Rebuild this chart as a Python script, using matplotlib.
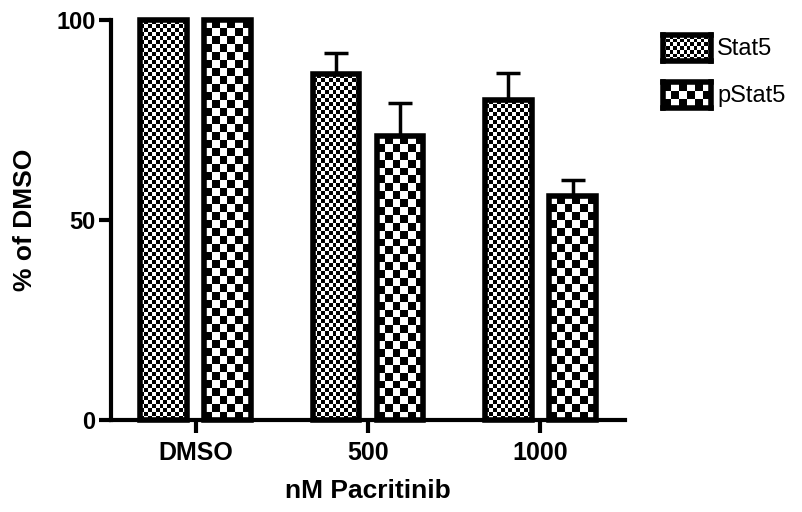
#!/usr/bin/env python3
"""Stat5 / pStat5 levels vs pacritinib dose, checkerboard bars."""

import matplotlib
matplotlib.use('Agg')
import matplotlib.pyplot as plt
import numpy as np

# data
doses = ['DMSO', '500', '1000']
stat5 = [100, 86.5, 80]
stat5_err = [0, 5.2, 6.8]
pstat5 = [100, 71, 56]
pstat5_err = [0, 8.3, 4.0]
series_names = ['Stat5', 'pStat5']

plt.rcParams['font.family'] = ['Liberation Sans', 'DejaVu Sans']

DPI = 100
fig = plt.figure(figsize=(8.02, 5.12), dpi=DPI)
ax = fig.add_axes([111 / 802, 92 / 512, 514 / 802, 400 / 512])


def checker(n_x, n_y):
    """Checkerboard array with n_x by n_y cells."""
    xx, yy = np.meshgrid(np.arange(n_x), np.arange(n_y))
    return ((xx + yy) % 2).astype(float)


def fill_checker(ax, patch, cell_px):
    """Fill a bar patch with a checkerboard of cell_px sized squares."""
    x0, y0 = patch.get_x(), patch.get_y()
    x1, y1 = x0 + patch.get_width(), y0 + patch.get_height()
    p0 = ax.transData.transform((x0, y0))
    p1 = ax.transData.transform((x1, y1))
    nx = max(1, int(round(abs(p1[0] - p0[0]) / cell_px)))
    ny = max(1, int(round(abs(p1[1] - p0[1]) / cell_px)))
    img = ax.imshow(checker(nx, ny), cmap='gray', vmin=0, vmax=1,
                    extent=(x0, x1, y0, y1), origin='lower',
                    interpolation='nearest', aspect='auto', zorder=2)
    img.set_clip_path(patch)


def draw_errors(ax, xs, ys, errs):
    """Upper-only error bars, skipping zero errors."""
    xs, ys, errs = np.asarray(xs), np.asarray(ys), np.asarray(errs)
    m = errs > 0
    ax.errorbar(xs[m], ys[m], yerr=[np.zeros(m.sum()), errs[m]], fmt='none',
                ecolor='black', elinewidth=2.5, capsize=8.5, capthick=2.5,
                zorder=4, clip_on=False)


x = np.arange(len(doses))
width = 0.27
offset = 0.186

ax.set_xlim(-0.49, 2.49)
ax.set_ylim(0, 100)

bars1 = ax.bar(x - offset, stat5, width, edgecolor='black', linewidth=4,
               zorder=3, fill=False, clip_on=False)
bars2 = ax.bar(x + offset, pstat5, width, edgecolor='black', linewidth=4,
               zorder=3, fill=False, clip_on=False)

for b in bars1:
    fill_checker(ax, b, 4)
for b in bars2:
    fill_checker(ax, b, 8)

draw_errors(ax, x - offset, stat5, stat5_err)
draw_errors(ax, x + offset, pstat5, pstat5_err)

# axes styling
for side in ['top', 'right']:
    ax.spines[side].set_visible(False)
for side in ['left', 'bottom']:
    ax.spines[side].set_linewidth(3)
    ax.spines[side].set_zorder(5)
ax.set_yticks([0, 50, 100])
ax.set_xticks(x)
ax.set_xticklabels(doses)
ax.tick_params(axis='both', width=3, length=9, labelsize=17)
ax.tick_params(axis='x', labelsize=18, pad=6)
for lab in ax.get_xticklabels() + ax.get_yticklabels():
    lab.set_fontweight('bold')
ax.tick_params(axis='y', pad=2)
ax.set_xlabel('nM Pacritinib', fontsize=19, fontweight='bold', labelpad=10)
ax.set_ylabel('% of DMSO', fontsize=19, fontweight='bold', labelpad=14)

# legend drawn by hand so the swatches keep the checkerboard
for i, (name, cell) in enumerate(zip(series_names, [3, 7])):
    top = 35 + i * 47
    lax = fig.add_axes([663 / 802, 1 - (top + 26) / 512, 48 / 802, 26 / 512])
    lax.imshow(checker(int(44 / cell), int(22 / cell)), cmap='gray',
               vmin=0, vmax=1, interpolation='nearest', aspect='auto')
    lax.set_xticks([])
    lax.set_yticks([])
    for s in lax.spines.values():
        s.set_linewidth(4)
    fig.text(717 / 802, 1 - (top + 14) / 512, name, fontsize=17,
             va='center', ha='left')

fig.savefig('out.png', dpi=DPI)
